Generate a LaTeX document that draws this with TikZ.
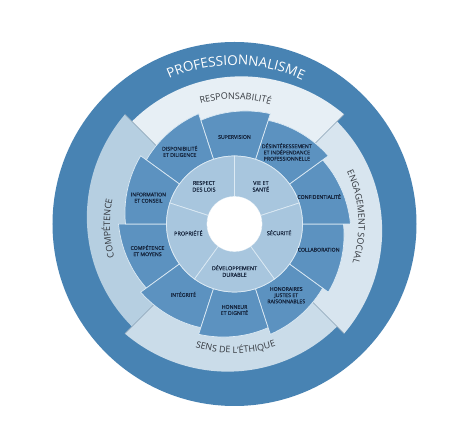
\documentclass[tikz,border=0pt]{standalone}
\usepackage{fontspec}
\setmainfont{Open Sans}
\newfontfamily\labelfont{Open Sans}[FakeBold=0.5]
\usetikzlibrary{decorations.text}

\definecolor{ringblue}{HTML}{4883B3}
\definecolor{segblue}{HTML}{5C92C0}
\definecolor{coreblue}{HTML}{A8C6DE}
\definecolor{respcolor}{HTML}{E7EFF5}
\definecolor{compcolor}{HTML}{B6CFE1}
\definecolor{ethcolor}{HTML}{CADCE9}
\definecolor{engcolor}{HTML}{D8E5EF}
\definecolor{segline}{HTML}{DCEAF4}
\definecolor{bandedge}{HTML}{8CA3B5}
\definecolor{labelnavy}{HTML}{15243C}
\definecolor{bandtext}{HTML}{34383E}

\newcommand{\bandfont}{\fontsize{9}{10}\selectfont\color{bandtext}}
\newcommand{\titlefont}{\fontsize{13.5}{15}\selectfont\color{white}}

\begin{document}
\begin{tikzpicture}[x=1pt,y=1pt,
  seg/.style={fill=segblue,draw=segline,line width=0.7pt},
  core/.style={fill=coreblue,draw=segline,line width=0.7pt},
  seglabel/.style={font=\labelfont\fontsize{5.2}{6.2}\selectfont,text=labelnavy,align=center,inner sep=0pt},
  corelabel/.style={font=\labelfont\fontsize{5.5}{6.6}\selectfont,text=labelnavy,align=center,inner sep=0pt},
  arctext/.style={decorate,decoration={text along path,text align=center,text={#1}}}
]
\useasboundingbox (-234.5,-222) rectangle (239.5,224);

% outer ring
\fill[ringblue] (0,0) circle (182);

% four value bands, a bit wider at the clockwise end
\foreach \a/\col in {45/respcolor,135/compcolor,225/ethcolor,-45/engcolor}{
  \pgfmathsetmacro\b{\a+90}
  \fill[\col] plot[domain=\a:\b,samples=46] (\x:{145+10*(1-(\x-\a)/90)^2})
    -- plot[domain=\b:\a,samples=46] (\x:100) -- cycle;
}
\foreach \a in {45,135,225,-45}
  \draw[bandedge,line width=0.5pt] (\a:100) -- (\a:155);

% ten middle segments
\foreach \a in {-180,-144,...,144}{
  \pgfmathsetmacro\b{\a+36}
  \filldraw[seg] plot[domain=\a:\b,samples=14] (\x:{116-7*(\x-\a)/36})
    -- plot[domain=\b:\a,samples=14] (\x:68) -- cycle;
}

% five inner segments
\foreach \a in {18,90,162,234,306}{
  \pgfmathsetmacro\b{\a+72}
  \filldraw[core] (\a:27.5) -- (\a:68) arc[start angle=\a,end angle=\b,radius=68]
    -- (\b:27.5) arc[start angle=\b,end angle=\a,radius=27.5] -- cycle;
}
\fill[white] (0,0) circle (27.5);

% ring titles
\path[arctext={|\titlefont|PROFESSIONNALISME}] (125:159) arc[start angle=125,end angle=54,radius=159];
\path[arctext={|\bandfont|RESPONSABILITÉ}] (115:124.8) arc[start angle=115,end angle=64,radius=124.8];
\path[arctext={|\bandfont|COMPÉTENCE}] (205:124.5) arc[start angle=205,end angle=159,radius=124.5];
\path[arctext={|\bandfont|ENGAGEMENT SOCIAL}] (40:124) arc[start angle=40,end angle=-33,radius=124];
\path[arctext={|\bandfont|SENS DE L’ÉTHIQUE}] (245:129.2) arc[start angle=245,end angle=296,radius=129.2];

% middle ring labels
\node[seglabel] (supervision) at (90:87) {SUPERVISION};
\node[seglabel] (desinteret) at (54:89) {DÉSINTÉRESSEMENT\\ET INDÉPENDANCE\\PROFESSIONNELLE};
\node[seglabel] (confid) at (18:89) {CONFIDENTIALITÉ};
\node[seglabel] (collab) at (-17:88) {COLLABORATION};
\node[seglabel] (honoraires) at (-54:88) {HONORAIRES\\JUSTES ET\\RAISONNABLES};
\node[seglabel] (honneur) at (-90:86) {HONNEUR\\ET DIGNITÉ};
\node[seglabel] (integrite) at (-126:87) {INTÉGRITÉ};
\node[seglabel] (competmoy) at (197:91) {COMPÉTENCE\\ET MOYENS};
\node[seglabel] (infoconseil) at (163:90) {INFORMATION\\ET CONSEIL};
\node[seglabel] (disponib) at (127:91) {DISPONIBILITÉ\\ET DILIGENCE};

% inner ring labels
\node[corelabel] (respect) at (129:48.5) {RESPECT\\DES LOIS};
\node[corelabel] (viesante) at (55:46) {VIE ET\\SANTÉ};
\node[corelabel] (securite) at (-11:45.5) {SÉCURITÉ};
\node[corelabel] (devdurable) at (-90:47) {DÉVELOPPEMENT\\DURABLE};
\node[corelabel] (propriete) at (191:47) {PROPRIÉTÉ};

\end{tikzpicture}
\end{document}
